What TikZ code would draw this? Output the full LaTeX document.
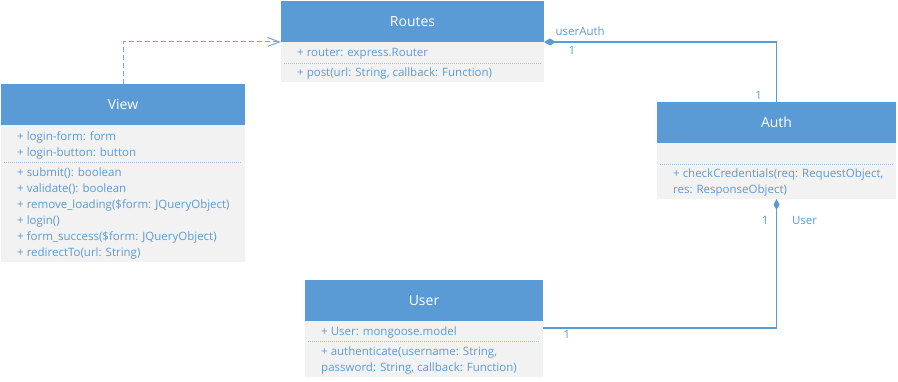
\documentclass[tikz,border=0pt]{standalone}
\usepackage{xcolor}
\usepackage{fontspec}
\setmainfont{Open Sans}
\usepackage{tikz}
\usetikzlibrary{positioning, arrows.meta}

\definecolor{umlblue}{HTML}{5B9BD5}
\definecolor{umlgray}{HTML}{F2F2F2}
\definecolor{umlline}{HTML}{9DC3E6}

\begin{document}
\begin{tikzpicture}[
    x=1pt, y=-1pt,
    classhead/.style={rectangle, fill=umlblue, text=white, minimum height=41pt, inner sep=0pt, outer sep=0pt, font=\fontsize{14}{16}\selectfont},
    compart/.style={rectangle, fill=umlgray, inner sep=0pt, outer sep=0pt},
    member/.style={align=left, inner sep=0pt, yshift=-1.5pt, text=umlblue, font=\fontsize{11.5}{16}\selectfont},
    separator/.style={draw=umlline, line width=0.8pt, dash pattern=on 1pt off 1pt},
    assoc/.style={draw=umlblue, line width=1.2pt},
    depend/.style={draw=umlblue!85, line width=1pt, dash pattern=on 5pt off 3pt},
    mult/.style={text=umlblue, inner sep=1pt, font=\fontsize{11.5}{12}\selectfont}
]
\useasboundingbox (0,0) rectangle (898,382);

% Routes class
\node[classhead, minimum width=263pt] (routes) at (412.5,21.5) {Routes};
\node[compart, minimum width=263pt, minimum height=21pt, below=0pt of routes] (routesattr) {};
\node[compart, minimum width=263pt, minimum height=19pt, below=0pt of routesattr] (routesops) {};
\node[member, right=16pt of routesattr.west] (routesattrtext) {+ router: express.Router};
\node[member, right=16pt of routesops.west] (routesopstext) {+ post(url: String, callback: Function)};
\draw[separator] ([xshift=3pt]routesattr.south west) -- ([xshift=-3pt]routesattr.south east);

% View class
\node[classhead, minimum width=244pt] (view) at (123,104.5) {View};
\node[compart, minimum width=244pt, minimum height=37pt, below=0pt of view] (viewattr) {};
\node[compart, minimum width=244pt, minimum height=100pt, below=0pt of viewattr] (viewops) {};
\node[member, right=16pt of viewattr.west] (viewattrtext) {+ login-form: form\\+ login-button: button};
\node[member, right=16pt of viewops.west] (viewopstext) {+ submit(): boolean\\+ validate(): boolean\\+ remove\_loading(\$form: JQueryObject)\\+ login()\\+ form\_success(\$form: JQueryObject)\\+ redirectTo(url: String)};
\draw[separator] ([xshift=3pt]viewattr.south west) -- ([xshift=-3pt]viewattr.south east);

% Auth class
\node[classhead, minimum width=239pt] (auth) at (776.5,122.5) {Auth};
\node[compart, minimum width=239pt, minimum height=21pt, below=0pt of auth] (authattr) {};
\node[compart, minimum width=239pt, minimum height=35pt, below=0pt of authattr] (authops) {};
\node[member, right=16pt of authops.west] (authopstext) {+ checkCredentials(req: RequestObject,\\res: ResponseObject)};
\draw[separator] ([xshift=3pt]authattr.south west) -- ([xshift=-3pt]authattr.south east);

% User class
\node[classhead, minimum width=238pt] (user) at (424,300.5) {User};
\node[compart, minimum width=238pt, minimum height=20pt, below=0pt of user] (userattr) {};
\node[compart, minimum width=238pt, minimum height=36pt, below=0pt of userattr] (userops) {};
\node[member, right=16pt of userattr.west] (userattrtext) {+ User: mongoose.model};
\node[member, right=16pt of userops.west] (useropstext) {+ authenticate(username: String,\\password: String, callback: Function)};
\draw[separator] ([xshift=3pt]userattr.south west) -- ([xshift=-3pt]userattr.south east);

% Relations
\draw[depend, -{Straight Barb[length=12pt, width=9pt]}] (view.north) |- (routes.south west);
\draw[assoc, {Diamond[length=12pt, width=7pt]}-] (routes.south east) -| (auth.north)
    node[mult, at start, above right=5pt and 10pt] (userauthrole) {userAuth}
    node[mult, at start, below right=3pt and 23pt] (routesmult) {1}
    node[mult, at end, above left=1pt and 13pt] (authmult) {1};
\draw[assoc, {Diamond[length=11pt, width=6pt]}-] (authops.south) |- ([yshift=-7pt]user.south east)
    node[mult, at start, below left=16pt and 6.5pt] (authusermult) {1}
    node[mult, at start, below right=16pt and 14pt] (userrole) {User}
    node[mult, at end, below right=1pt and 19pt] (usermult) {1};

\end{tikzpicture}
\end{document}
